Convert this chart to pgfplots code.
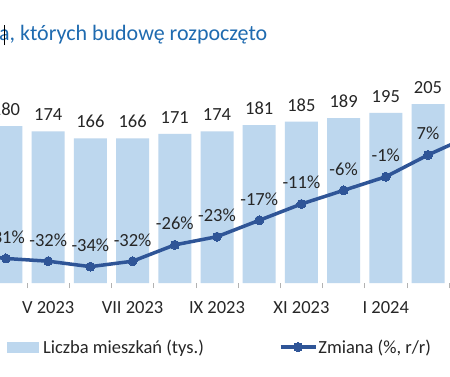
\documentclass[border=0pt]{standalone}
\usepackage{pgfplots}
\pgfplotsset{compat=1.18}
\usepackage{fontspec}
\setmainfont{Carlito}
\definecolor{barblue}{HTML}{BDD7EE}
\definecolor{linedark}{HTML}{2F5597}
\definecolor{titleblue}{HTML}{1F6BB0}
\definecolor{txt}{HTML}{262626}
\pgfplotsset{
  lineleg/.style={legend image code/.code={\draw[mark repeat=2,mark phase=2,##1] plot coordinates {(0pt,0pt) (17.5pt,0pt) (35pt,0pt)};}},
  barleg/.style={legend image code/.code={\fill[barblue] (0pt,-5pt) rectangle (30.6pt,5pt); \path (34.6pt,0pt);}},
}
\begin{document}
\begin{tikzpicture}
\fill[white] (0pt,0pt) rectangle (450pt,376pt);
% title
\node[anchor=base east, inner sep=0pt, text=titleblue, font=\fontsize{22}{26}\selectfont] at (267.5pt,336pt) {Mieszkania, których budowę rozpoczęto};
\draw[black, line width=0.6pt] (4.7pt,331pt) -- (4.7pt,351pt);
\begin{axis}[
  at={(0pt,93pt)}, anchor=south west,
  scale only axis, width=450pt, height=218pt,
  xmin=0.858, xmax=11.521,
  ymin=0, ymax=250,
  hide y axis,
  axis x line*=bottom,
  x axis line style={draw=none},
  xtick={2,4,6,8,10,12},
  xticklabels={V 2023, VII 2023, IX 2023, XI 2023, I 2024, III 2024},
  major tick length=0pt,
  minor xtick={0.5,1.5,2.5,3.5,4.5,5.5,6.5,7.5,8.5,9.5,10.5,11.5,12.5},
  minor tick length=5pt,
  tick align=outside,
  minor tick style={draw=gray!60, line width=0.6pt},
  xticklabel style={font=\fontsize{18.5}{22}\selectfont, text=txt, yshift=-15pt},
  /pgf/number format/assume math mode=true,
  ybar, bar width=33pt,
  nodes near coords,
  every node near coord/.append style={font=\fontsize{18.5}{22}\selectfont, text=txt, yshift=7pt},
  clip=true,
]
\addplot[fill=barblue, draw=none] coordinates {
 (1,180) (2,174) (3,166) (4,166) (5,171) (6,174) (7,181) (8,185) (9,189) (10,195) (11,205)
};
\end{axis}
\begin{axis}[
  at={(0pt,93pt)}, anchor=south west,
  scale only axis, width=450pt, height=218pt,
  xmin=0.858, xmax=11.521,
  ymin=-40, ymax=40,
  hide x axis, hide y axis,
  clip=true,
  legend columns=2,
  legend style={draw=none, fill=none, inner sep=0pt, outer sep=0pt,
    at={(axis description cs:0.0156,-0.2936)}, anchor=west,
    font=\fontsize{18.5}{22}\selectfont, text=txt,
    nodes={inner sep=0pt},
    /tikz/every odd column/.style={column sep=1pt},
    /tikz/every even column/.style={column sep=75pt}},
]
\addlegendimage{barleg}
\addlegendentry{Liczba mieszkań (tys.)}
\addplot[linedark, line width=3.5pt, mark=*, mark size=4.5pt,
  mark options={fill=linedark, draw=linedark, line width=0pt},
  point meta=explicit symbolic,
  nodes near coords,
  every node near coord/.append style={font=\fontsize{18.5}{22}\selectfont, text=txt, yshift=11.5pt},
  lineleg
] coordinates {
 (0,-29) [-29\%]
 (1,-31) [-31\%]
 (2,-32) [-32\%]
 (3,-34) [-34\%]
 (4,-32) [-32\%]
 (5,-26) [-26\%]
 (6,-23) [-23\%]
 (7,-17) [-17\%]
 (8,-11) [-11\%]
 (9,-6) [-6\%]
 (10,-1) [-1\%]
 (11,7) [7\%]
 (12,14) [14\%]
};
\addlegendentry{Zmiana (\%, r/r)}
\end{axis}
\pgfresetboundingbox
\useasboundingbox (0pt,0pt) rectangle (450pt,376pt);
\end{tikzpicture}
\end{document}
